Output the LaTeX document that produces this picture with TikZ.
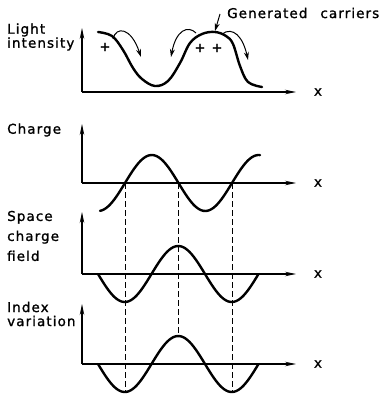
\documentclass[tikz,border=0pt]{standalone}
\usepackage{fontspec}
\newfontfamily\lblfont[LetterSpace=8, FakeBold=1.2]{DejaVu Sans}
\usetikzlibrary{arrows.meta}

\begin{document}
\begin{tikzpicture}[
  x=1pt, y=-1pt,
  lbl/.style={font=\lblfont\fontsize{13.5}{14}\selectfont, align=left, inner sep=0pt},
  axis/.style={-{Stealth[length=11pt, width=4.5pt]}, line width=1.1pt},
  wave/.style={line width=2.4pt, line cap=round},
  guide/.style={dash pattern=on 6pt off 3pt, line width=0.6pt},
  carr/.style={-{Stealth[length=8pt, width=5pt]}, line width=1pt},
  plus/.style={font=\lblfont\fontsize{13}{13}\selectfont, inner sep=0pt}
]
\useasboundingbox (0,0) rectangle (378,395);

% axes origins
\coordinate (o1) at (82,92);
\coordinate (o2) at (82,183);
\coordinate (o3) at (82,274);
\coordinate (o4) at (82,364);

% axes
\draw[axis] (o1) -- ++(0,-64);
\draw[axis] (o1) -- ++(214,0);
\draw[axis] (o2) -- ++(0,-59);
\draw[axis] (o2) -- ++(214,0);
\draw[axis] (o3) -- ++(0,-62);
\draw[axis] (o3) -- ++(214,0);
\draw[axis] (o4) -- ++(0,-60);
\draw[axis] (o4) -- ++(214,0);

\node[lbl] (xa) at (318,92)  {x};
\node[lbl] (xb) at (318,183) {x};
\node[lbl] (xc) at (318,274) {x};
\node[lbl] (xd) at (318,364) {x};

% panel labels
\node[lbl, anchor=west] (light)  at (7,37)  {Light\\intensity};
\node[lbl, anchor=west] (charge) at (7,130) {Charge};
\node[lbl, anchor=west, font=\lblfont\fontsize{13.5}{20}\selectfont] (field) at (7,236) {Space\\charge\\field};
\node[lbl, anchor=west] (index)  at (7,314) {Index\\variation};

% light intensity
\draw[wave] plot[smooth, tension=0.6] coordinates {
  (98,32) (112,36) (123,50) (133,68) (142,79) (155,86) (168,81) (180,63)
  (190,43) (202,34) (215,32) (226,36) (233,44) (240,66) (248,82) (262,87)};

% generated carriers
\node[plus] (p1) at (105,47) {+};
\node[plus] (p2) at (200,48) {+};
\node[plus] (p3) at (217,48) {+};
\draw[carr] (113,39) .. controls (116,26) and (131,27) .. (141,57);
\draw[carr] (196,33) .. controls (188,25) and (176,30) .. (171,57);
\draw[carr] (222,34) .. controls (233,26) and (243,37) .. (248,60);

\node[lbl, anchor=west] (gen) at (227,13) {Generated\hspace{13pt}carriers};
\coordinate (peak) at (215,31);
\draw[carr] ([shift={(-7,1)}]gen.west) -- (peak);

% charge, field, index
\draw[wave] plot[smooth, samples=80, domain=100:260] (\x, {183-28*sin(3.3645*(\x-125))});
\draw[wave] plot[smooth, samples=80, domain=98:258.5] (\x, {274+28*sin(3.3645*(\x-98))});
\draw[wave] plot[smooth, samples=80, domain=98:258.5] (\x, {364+28*sin(3.3645*(\x-98))});

% guide lines
\draw[guide] (125,183) -- (125,392);
\draw[guide] (178,183) -- (178,337);
\draw[guide] (232,183) -- (232,392);

\end{tikzpicture}
\end{document}
